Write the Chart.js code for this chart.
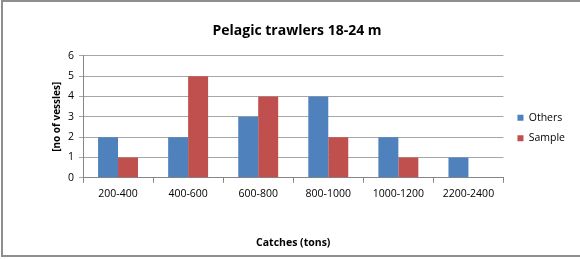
<!DOCTYPE html>
<html>
<head>
<meta charset="utf-8">
<script src="https://cdn.jsdelivr.net/npm/chart.js@4/dist/chart.umd.min.js"></script>
<style>
  html, body { margin: 0; padding: 0; background: #fff; }
  #wrap { width: 580px; height: 259px; position: relative; }
</style>
</head>
<body>
<div id="wrap"><canvas id="chart" width="580" height="259"></canvas></div>
<script>
// values
var categories = ['200-400', '400-600', '600-800', '800-1000', '1000-1200', '2200-2400'];
var others = [2, 2, 3, 4, 2, 1];
var sample = [1, 5, 4, 2, 1, 0];
var yTicks = [0, 1, 2, 3, 4, 5, 6];

var font = '"Open Sans", Lato, sans-serif';

// white background and the grey frame (top, left, bottom) round the chart
var framePlugin = {
    id: 'frame',
    beforeDraw: function(chart){
        var ctx = chart.ctx;
        ctx.save();
        ctx.fillStyle = '#fff';
        ctx.fillRect(0, 0, chart.width, chart.height);
        ctx.strokeStyle = '#8e8e8e';
        ctx.lineWidth = 2;
        ctx.beginPath();
        ctx.moveTo(chart.width, 1);
        ctx.lineTo(2, 1);
        ctx.lineTo(2, 256);
        ctx.lineTo(chart.width, 256);
        ctx.stroke();
        ctx.restore();
    }
};

// nudge the legend a little away from the plot, as in the reference
var legendShift = {
    id: 'legendShift',
    afterLayout: function(chart){
        if (chart.legend){
            chart.legend.left += 4;
            chart.legend.right += 4;
        }
    }
};

var ctx = document.getElementById('chart').getContext('2d');
var graph = new Chart(ctx, {
    type: 'bar',
    data: {
        labels: categories,
        datasets: [{
            label: 'Others',
            data: others,
            backgroundColor: '#4f81bd',
            borderWidth: 0
        }, {
            label: 'Sample',
            data: sample,
            backgroundColor: '#c0504d',
            borderWidth: 0
        }]
    },
    options: {
        responsive: false,
        animation: false,
        devicePixelRatio: 1,
        layout: {
            padding: { left: 23, right: 9, top: 23, bottom: 10 }
        },
        datasets: {
            bar: { categoryPercentage: 0.57, barPercentage: 1.0 }
        },
        plugins: {
            title: {
                display: true,
                text: 'Pelagic trawlers 18-24 m',
                color: '#000',
                font: { family: font, size: 14, weight: 'bold' },
                padding: { top: 0, bottom: 16 }
            },
            legend: {
                position: 'right',
                align: 'start',
                title: { display: true, text: '', padding: { top: 65, bottom: 0 } },
                labels: {
                    boxWidth: 6,
                    boxHeight: 6,
                    padding: 10,
                    color: '#000',
                    font: { family: font, size: 10.5 }
                }
            },
            tooltip: { enabled: false }
        },
        scales: {
            x: {
                grid: {
                    offset: true,
                    drawOnChartArea: false,
                    color: '#868686',
                    tickLength: 5
                },
                border: { color: '#868686' },
                ticks: {
                    color: '#000',
                    font: { family: font, size: 10.5 },
                    padding: 5,
                    maxRotation: 0
                },
                title: {
                    display: true,
                    text: 'Catches (tons)',
                    color: '#000',
                    font: { family: font, size: 10.5, weight: 'bold' },
                    padding: { top: 31, bottom: 0 }
                }
            },
            y: {
                min: yTicks[0],
                max: yTicks[yTicks.length - 1],
                afterBuildTicks: function(axis){
                    axis.ticks = yTicks.map(function(v){ return { value: v }; });
                },
                grid: {
                    color: '#a6a6a6',
                    tickLength: 4
                },
                border: { color: '#868686' },
                ticks: {
                    color: '#000',
                    font: { family: font, size: 10.5 },
                    padding: 5
                },
                title: {
                    display: true,
                    text: '[no of vessles]',
                    color: '#000',
                    font: { family: font, size: 10, weight: 'bold' },
                    padding: { top: 28, bottom: 0 }
                }
            }
        }
    },
    plugins: [framePlugin, legendShift]
});
</script>
</body>
</html>
